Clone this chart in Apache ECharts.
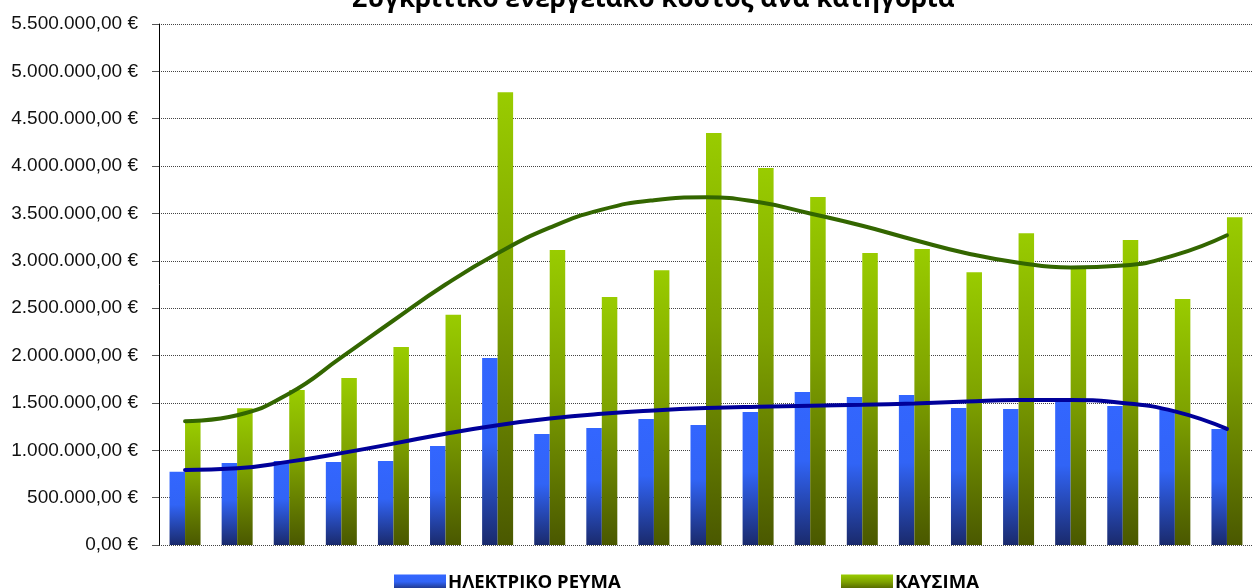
<!DOCTYPE html>
<html>
<head>
<meta charset="utf-8">
<script src="https://cdn.jsdelivr.net/npm/echarts@6/dist/echarts.min.js"></script>
<style>
  html, body { margin: 0; padding: 0; background: #fff; }
  #chart { width: 1253px; height: 588px; }
</style>
</head>
<body>
<div id="chart"></div>
<script>
  // κατηγορίες (21 στήλες, χωρίς ετικέτες στον άξονα)
  var categories = ['1', '2', '3', '4', '5', '6', '7', '8', '9', '10', '11', '12', '13', '14', '15', '16', '17', '18', '19', '20', '21']
  var electricity = [774000, 866000, 887000, 876000, 887000, 1045000, 1974000, 1172000, 1235000, 1330000, 1267000, 1404000, 1615000, 1562000, 1584000, 1446000, 1436000, 1530000, 1467000, 1425000, 1225000]
  var fuel = [1300000, 1443000, 1636000, 1763000, 2090000, 2430000, 4780000, 3114000, 2618000, 2900000, 4350000, 3980000, 3674000, 3083000, 3125000, 2880000, 3290000, 2930000, 3220000, 2597000, 3460000]
  // γραμμές τάσης, τιμές διαβασμένες στο κέντρο κάθε κατηγορίας
  var electricityTrend = [792000, 810000, 880000, 970000, 1070000, 1175000, 1265000, 1335000, 1385000, 1420000, 1445000, 1460000, 1470000, 1480000, 1495000, 1515000, 1530000, 1530000, 1500000, 1410000, 1225000]
  var fuelTrend = [1306000, 1370000, 1600000, 1980000, 2370000, 2750000, 3080000, 3350000, 3540000, 3640000, 3670000, 3620000, 3500000, 3370000, 3220000, 3080000, 2980000, 2930000, 2950000, 3060000, 3270000]
  var yTicks = { min: 0, max: 5500000, interval: 500000 }

  function euro (v) {
    var s = Math.round(v).toString().replace(/\B(?=(\d{3})+(?!\d))/g, '.')
    return s + ',00 €'
  }

  var blueGrad = new echarts.graphic.LinearGradient(0, 0, 0, 1, [
    { offset: 0, color: '#3366ff' },
    { offset: 0.45, color: '#3164f6' },
    { offset: 1, color: '#1a2a6c' }
  ])
  var greenGrad = new echarts.graphic.LinearGradient(0, 0, 0, 1, [
    { offset: 0, color: '#99cc00' },
    { offset: 0.45, color: '#7fa300' },
    { offset: 1, color: '#4a5800' }
  ])

  var legendText = { fontFamily: 'Open Sans', fontWeight: 'bold', fontSize: 18.5, color: '#000', padding: [0, 0, 0, -3] }

  var chart = echarts.init(document.getElementById('chart'))
  var option = {
    animation: false,
    title: {
      text: 'Συγκριτικό ενεργειακό κόστος ανά κατηγορία',
      left: 347,
      top: -18,
      textStyle: { fontFamily: 'Open Sans', fontWeight: 'bold', fontSize: 26, color: '#000' }
    },
    legend: [{
      data: ['ΗΛΕΚΤΡΙΚΟ ΡΕΥΜΑ'],
      left: 389,
      top: 568,
      itemWidth: 52,
      itemHeight: 16,
      icon: 'rect',
      textStyle: legendText
    }, {
      data: ['ΚΑΥΣΙΜΑ'],
      left: 836,
      top: 568,
      itemWidth: 52,
      itemHeight: 16,
      icon: 'rect',
      textStyle: legendText
    }],
    grid: { left: 159, top: 24, width: 1102.5, height: 521 },
    xAxis: {
      type: 'category',
      data: categories,
      axisLine: { show: false },
      axisTick: { show: false },
      axisLabel: { show: false }
    },
    yAxis: {
      type: 'value',
      min: yTicks.min,
      max: yTicks.max,
      interval: yTicks.interval,
      axisLine: { show: true, lineStyle: { color: '#000', width: 1 } },
      axisTick: { show: true, length: 7, lineStyle: { color: '#555' } },
      axisLabel: {
        formatter: euro,
        margin: 21,
        fontFamily: 'Liberation Sans',
        fontSize: 19,
        color: '#111'
      },
      splitLine: { show: true, lineStyle: { color: '#444', type: [1, 1], width: 1 } }
    },
    series: [
      {
        name: 'ΗΛΕΚΤΡΙΚΟ ΡΕΥΜΑ',
        type: 'bar',
        data: electricity,
        barWidth: 15.5,
        barGap: '0%',
        itemStyle: { color: blueGrad }
      },
      {
        name: 'ΚΑΥΣΙΜΑ',
        type: 'bar',
        data: fuel,
        barWidth: 15.5,
        itemStyle: { color: greenGrad }
      },
      {
        name: 'trend-fuel',
        type: 'line',
        data: fuelTrend,
        smooth: 0.5,
        showSymbol: false,
        z: 5,
        lineStyle: { color: '#336600', width: 4, cap: 'round' }
      },
      {
        name: 'trend-electricity',
        type: 'line',
        data: electricityTrend,
        smooth: 0.5,
        showSymbol: false,
        z: 5,
        lineStyle: { color: '#000099', width: 4, cap: 'round' }
      }
    ]
  }
  chart.setOption(option, true)
  window.onresize = chart.resize
</script>
</body>
</html>
